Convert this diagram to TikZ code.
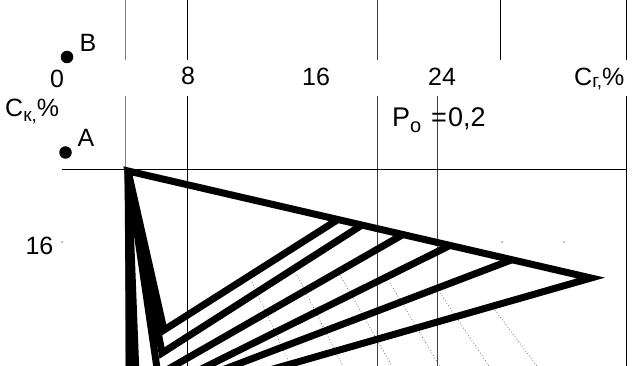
\documentclass[tikz,border=0pt]{standalone}
\usepackage{fontspec}
\setmainfont{Liberation Sans}
\begin{document}
\begin{tikzpicture}[x=1pt,y=-1pt,
  gridk/.style={line width=0.8pt,black},
  gridg/.style={line width=0.9pt,black!50},
  gridd/.style={line width=0.8pt,black!75},
  isol/.style={line width=0.7pt,black!60,dash pattern=on 0.8pt off 2.2pt},
  heavy/.style={line width=7pt,black,line join=miter,miter limit=10},
  lab/.style={inner sep=0pt,font=\fontsize{25}{25}\selectfont},
  labp/.style={inner sep=0pt,font=\fontsize{27}{27}\selectfont},
  dotmark/.style={circle,fill=black,inner sep=0pt,minimum size=12.5pt}]
\useasboundingbox (0,0) rectangle (639,366);
\clip (0,0) rectangle (639,366);
% grid lines
\draw[gridg] (125,0) -- (125,60);
\draw[gridg] (125,96) -- (125,366);
\draw[gridk] (187,0) -- (187,60);
\draw[gridk] (187,96) -- (187,366);
\draw[gridd] (377,0) -- (377,60);
\draw[gridd] (377,96) -- (377,366);
\draw[gridk] (500,0) -- (500,60);
\draw[gridd] (437,96) -- (437,366);
\draw[gridk] (626,0) -- (626,60);
\draw[gridk] (626,96) -- (626,366);
\draw[gridk] (62,169.5) -- (626,169.5);
% tiny tick marks
\fill (62,242) circle (0.7);
\fill (502,242) circle (0.7);
\fill (564,242) circle (0.7);
% iso lines (dotted)
\draw[isol] (252,282) -- (300,386);
\draw[isol] (297,275) -- (350,380);
\draw[isol] (340,275) -- (400,380);
\draw[isol] (390,283) -- (445,375);
\draw[isol] (440,293) -- (495,375);
\draw[isol] (495,310) -- (545,377);
% key points
\coordinate (apex) at (128,171);
\coordinate (tip) at (591,278);
\coordinate (P1) at (338,219.5);
\coordinate (P2) at (362,225);
\coordinate (P3) at (403,234.5);
\coordinate (P4) at (450,245.4);
\coordinate (P5) at (512,259.7);
\coordinate (V1) at (164,330);
\coordinate (V2) at (162,353);
\coordinate (V3) at (158,375);
\coordinate (V4) at (137,401);
\coordinate (V5) at (133,404);
\coordinate (V6) at (130,410);
% heavy lines
\draw[heavy] (P1) -- (V1) -- (apex) -- (tip) -- (V6) -- (apex);
\draw[heavy] (apex) -- (V2) -- (P2);
\draw[heavy] (apex) -- (V3) -- (P3);
\draw[heavy] (apex) -- (V4) -- (P4);
\draw[heavy] (apex) -- (V5) -- (P5);
% labels
\node[lab,anchor=base] (t0) at (57,88) {0};
\node[lab,anchor=base] (t8) at (188,85) {8};
\node[lab,anchor=base] (t16) at (316,86) {16};
\node[lab,anchor=base] (t24) at (442,86) {24};
\node[lab,anchor=base west] (cg) at (574,86) {C\lower2pt\hbox{\fontsize{19}{19}\selectfont г,}\%};
\node[lab,anchor=base west] (ck) at (5,117) {C\lower5pt\hbox{\fontsize{19}{19}\selectfont к,}\%};
\node[lab,anchor=base] (tB) at (88,52) {B};
\node[lab,anchor=base] (tA) at (86,147) {A};
\node[lab,anchor=base] (t16l) at (39.5,254) {16};
\node[dotmark] (dB) at (67,57) {};
\node[dotmark] (dA) at (65.5,152.5) {};
\node[labp,anchor=base west] (po) at (392,127) {P\lower6pt\hbox{\fontsize{20}{20}\selectfont o}};
\node[labp,anchor=base] (eq) at (439,127) {=};
\node[labp,anchor=base west] (val) at (448,127) {0,2};
\end{tikzpicture}
\end{document}
